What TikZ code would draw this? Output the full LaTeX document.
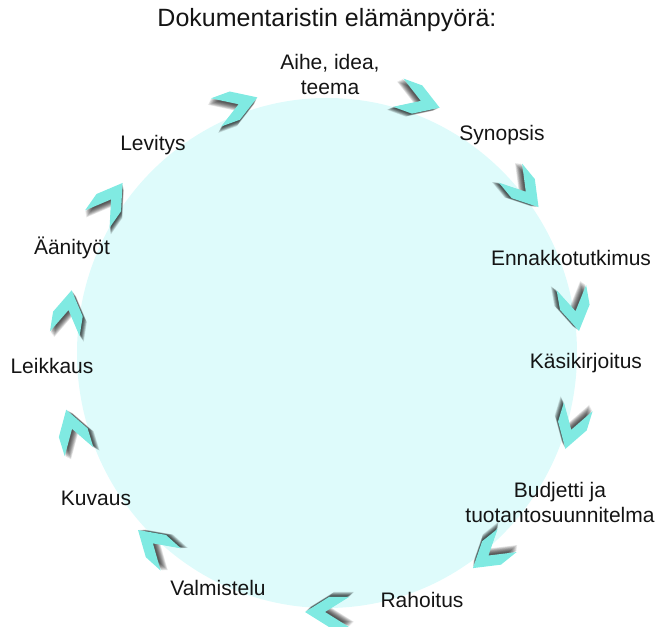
\documentclass[tikz,border=0pt]{standalone}
\usepackage{fontspec}
\setmainfont{Liberation Sans}
\usepackage{tikz}
\usetikzlibrary{calc,positioning}

\definecolor{wheelfill}{RGB}{222,251,251}
\definecolor{chevfill}{RGB}{128,234,226}
\definecolor{labeltext}{RGB}{20,20,20}

\tikzset{
	lbl/.style={font=\fontsize{21}{25}\selectfont, text=labeltext, inner sep=0pt},
	chevshadow/.style={fill=black, opacity=0.11},
	chevbody/.style={fill=chevfill}
}

\begin{document}
\begin{tikzpicture}[x=1pt,y=1pt]
		\useasboundingbox (0,0) rectangle (657,639);
		\coordinate (c) at (327,286);
		\fill[wheelfill] (c) ellipse [x radius=250, y radius=255];
		
		\node[lbl, font=\fontsize{25}{30}\selectfont] (title) at (327,619) {Dokumentaristin elämänpyörä:};
		
		\node[lbl, align=center] (aihe) at (330,564) {Aihe, idea,\\ teema};
		\node[lbl] (synopsis) at (502,504) {Synopsis};
		\node[lbl] (ennakko) at (571,381) {Ennakkotutkimus};
		\node[lbl] (kasik) at (586,276) {Käsikirjoitus};
		\node[lbl, align=center] (budjetti) at (560,136) {Budjetti ja\\ tuotantosuunnitelma};
		\node[lbl] (rahoitus) at (422,39) {Rahoitus};
		\node[lbl] (valmistelu) at (218,51) {Valmistelu};
		\node[lbl] (kuvaus) at (96,141) {Kuvaus};
		\node[lbl] (leikkaus) at (52,273) {Leikkaus};
		\node[lbl] (aanityot) at (72,391) {Äänityöt};
		\node[lbl] (levitys) at (153,494) {Levitys};
		
		% chevrons round the wheel, clockwise
		\foreach \a/\r in {110/264, 70/269, 39.5/256, 10/252, -17/256, -51/259, -90/259, -132/258, -163/266, 171/262, 145/265} {
			\coordinate (p) at ($(c)+(\a:\r)$);
			\foreach \s in {1,1.5,...,5} {
				\fill[chevshadow, shift={(p)}, rotate=\a-90, shift={(-\s,-\s)}]
					(22,0) -- (-2,15) -- (-22,15) -- (2,0) -- (-22,-15) -- (-2,-15) -- cycle;
			}
			\fill[chevbody, shift={(p)}, rotate=\a-90]
				(22,0) -- (-2,15) -- (-22,15) -- (2,0) -- (-22,-15) -- (-2,-15) -- cycle;
		};
	\end{tikzpicture}
\end{document}
